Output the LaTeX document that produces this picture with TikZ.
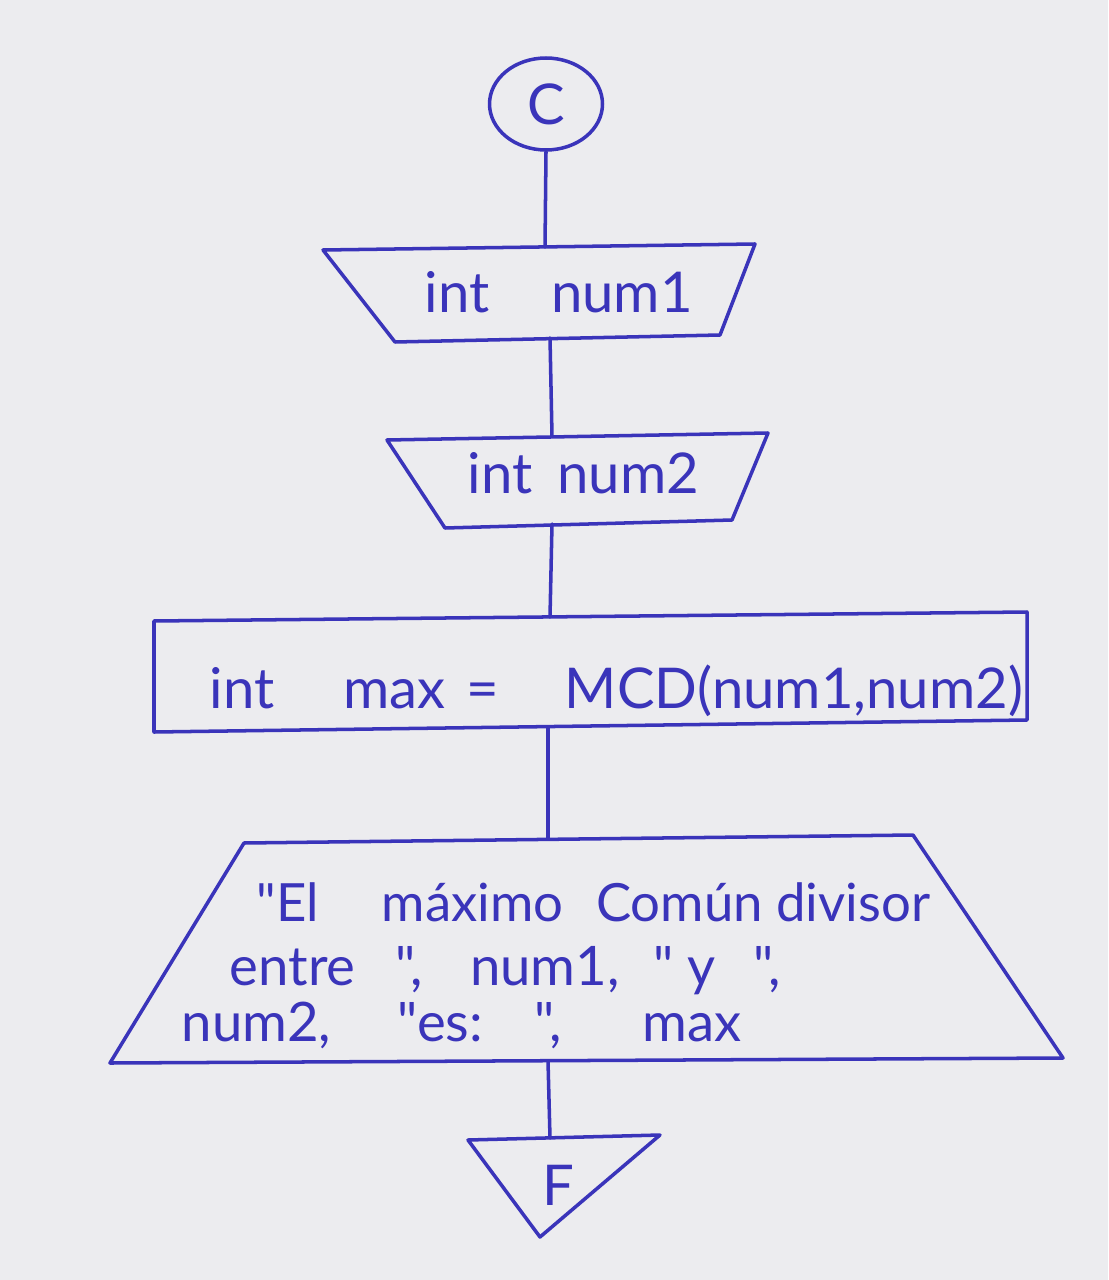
\documentclass[tikz,border=0pt]{standalone}
\usepackage{fontspec}
\newfontfamily\hand{Lato}
\usetikzlibrary{shapes.geometric}
\definecolor{ink}{RGB}{58,52,186}
\definecolor{paper}{RGB}{236,236,239}
\begin{document}
\begin{tikzpicture}[x=0.02cm,y=-0.02cm, line width=2pt, line join=round, line cap=round,
  shp/.style={draw=ink},
  conn/.style={draw=ink},
  lbl/.style={text=ink, inner sep=0pt, anchor=base west, font=\hand\fontsize{32}{38}\selectfont},
  outlbl/.style={text=ink, inner sep=0pt, anchor=base west, font=\hand\fontsize{31}{38}\selectfont},
  biglbl/.style={text=ink, inner sep=0pt, anchor=base west, font=\hand\fontsize{32}{38}\selectfont}]
\fill[paper] (0,0) rectangle (1108,1280);
\useasboundingbox (0,0) rectangle (1108,1280);

% start connector
\node[shp, ellipse, minimum width=2.26cm, minimum height=1.84cm, inner sep=0pt,
      text=ink, font=\hand\fontsize{32}{38}\selectfont] (c) at (546,104) {C};

% input 1
\draw[shp] (323,250) -- (755,244) -- (720,335) -- (395,342) -- cycle;
\coordinate (t1top) at (545,247);
\coordinate (t1bot) at (550,338);
\node[lbl] (n1) at (423,313) {int\hspace{27pt} num1};

% input 2
\draw[shp] (387,440) -- (768,433) -- (732,520) -- (445,528) -- cycle;
\coordinate (t2top) at (552,436);
\coordinate (t2bot) at (552,524);
\node[lbl] (n2) at (466,493) {int\hspace{6pt} num2};

% process
\draw[shp] (154,621) -- (1027,612) -- (1027,720) -- (154,732) -- cycle;
\coordinate (rtop) at (550,617);
\coordinate (rbot) at (548,727);
\node[biglbl] (p) at (208,708) {int\hspace{31pt} max\hspace{4pt} =\hspace{29pt} MCD(num1,num2)};

% output
\draw[shp] (244,843) -- (913,835) -- (1063,1058) -- (110,1063) -- cycle;
\coordinate (t3top) at (548,839);
\coordinate (t3bot) at (548,1061);
\node[outlbl, font=\hand\fontsize{30}{36}\selectfont] (o1) at (255,921) {"El\hspace{28pt} máximo\hspace{11pt} Común divisor};
\node[outlbl] (o2) at (228,985) {entre\hspace{15pt} ",\hspace{19pt} num1,\hspace{11pt} " y\hspace{14pt} ",};
\node[outlbl] (o3) at (180,1041) {num2,\hspace{30pt} "es:\hspace{19pt} ",\hspace{38pt} max};

% end
\draw[shp] (468,1140) -- (660,1135) -- (540,1237) -- cycle;
\coordinate (ftop) at (550,1138);
\node[text=ink, inner sep=0pt, font=\hand\fontsize{32}{38}\selectfont] (f) at (558,1185) {F};

% connectors
\draw[conn] (c.south) -- (t1top);
\draw[conn] (t1bot) -- (t2top);
\draw[conn] (t2bot) -- (rtop);
\draw[conn] (rbot) -- (t3top);
\draw[conn] (t3bot) -- (ftop);
\end{tikzpicture}
\end{document}
